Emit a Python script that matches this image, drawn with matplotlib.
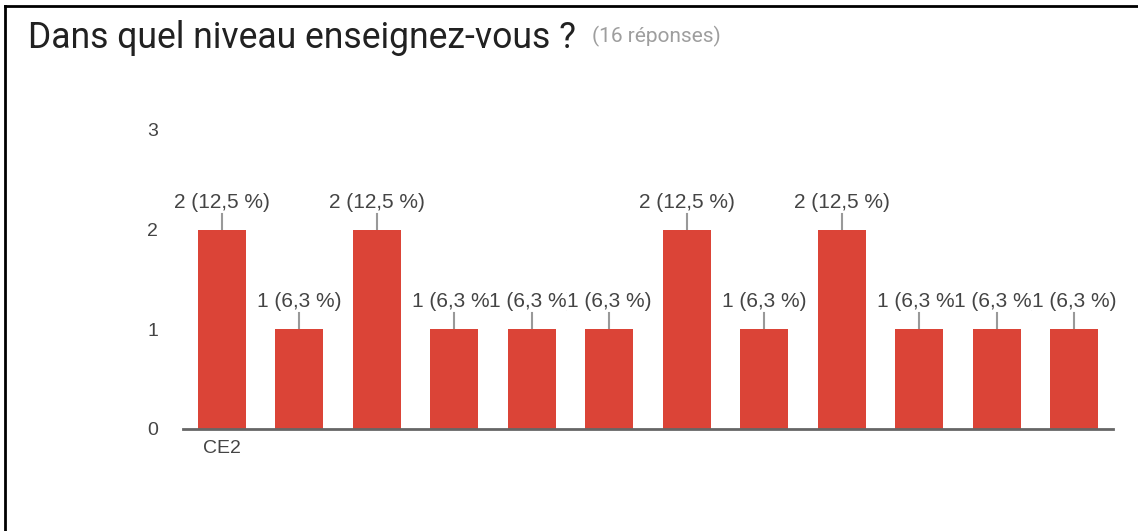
import matplotlib.pyplot as plt
from matplotlib.lines import Line2D

# Réponses par niveau (16 réponses)
niveaux = ["CE2", "", "", "", "", "", "", "", "", "", "", ""]
reponses = [2, 1, 2, 1, 1, 1, 2, 1, 2, 1, 1, 1]
pourcentages = [12.5, 6.3, 12.5, 6.3, 6.3, 6.3, 12.5, 6.3, 12.5, 6.3, 6.3, 6.3]
yticks = [0, 1, 2, 3]

rouge = '#DB4437'
gris_texte = '#444444'

fig = plt.figure(figsize=(11.38, 5.31), dpi=100)
ax = fig.add_axes([0.1608, 0.1921, 0.8172, 0.5631])

x = range(len(reponses))
ax.bar(x, reponses, width=0.62, color=rouge, zorder=2)

# étiquettes au-dessus des barres, avec petit trait
for i, (v, p) in enumerate(zip(reponses, pourcentages)):
    ax.plot([i, i], [v, v + 0.16], color='#999999', lw=1.5, zorder=1)
    etiquette = f"{v} ({str(p).replace('.', ',')} %)"
    ax.text(i, v + 0.22, etiquette, ha='center', va='baseline', fontsize=15,
            color=gris_texte, family='Liberation Sans', zorder=3 + i,
            bbox=dict(facecolor='white', edgecolor='none', pad=0))

ax.set_xlim(-0.5, len(reponses) - 0.5)
ax.set_ylim(0, 3)
ax.set_yticks(yticks)
ax.set_yticklabels([str(t) for t in yticks], family='Liberation Sans')
ax.set_xticks(list(x))
ax.set_xticklabels(niveaux, family='Liberation Sans')
ax.tick_params(axis='y', length=0, pad=18, labelsize=14, labelcolor=gris_texte)
ax.tick_params(axis='x', length=0, pad=8, labelsize=14, labelcolor=gris_texte)

for s in ['top', 'right', 'left']:
    ax.spines[s].set_visible(False)
ax.spines['bottom'].set_color('#666666')
ax.spines['bottom'].set_linewidth(2)
ax.spines['bottom'].set_zorder(5)

# titre
fig.text(28 / 1138, 1 - 38 / 531, "Dans quel niveau enseignez-vous ?", fontsize=25.6,
         family='Roboto', color='#212121', ha='left', va='center')
fig.text(592 / 1138, 1 - 36 / 531, "(16 réponses)", fontsize=15,
         family='Roboto', color='#9e9e9e', ha='left', va='center')

# cadre de la capture
fig.add_artist(Line2D([5 / 1138, 1], [1 - 6 / 531, 1 - 6 / 531], color='black', lw=2))
fig.add_artist(Line2D([5 / 1138, 5 / 1138], [0, 1 - 6 / 531], color='black', lw=2))

fig.savefig('out.png', dpi=100)
